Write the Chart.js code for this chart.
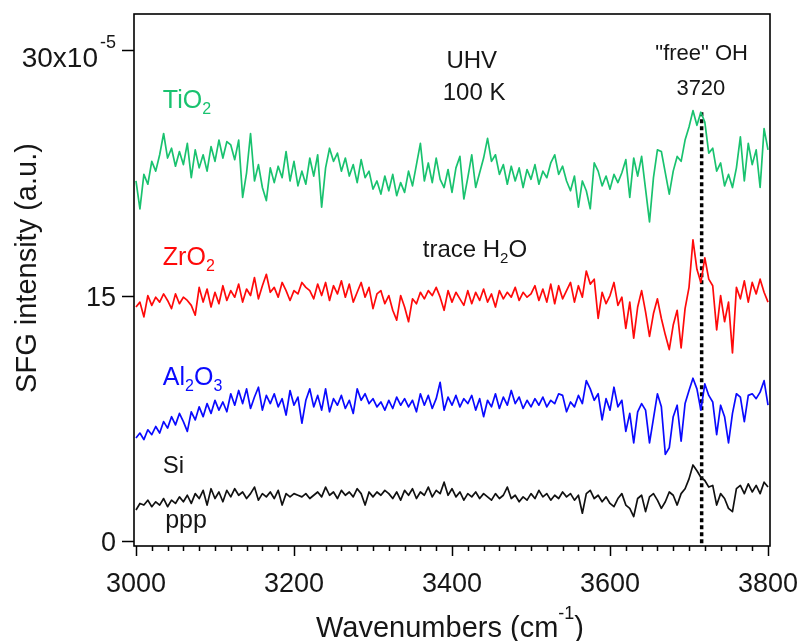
<!DOCTYPE html>
<html><head><meta charset="utf-8">
<script src="https://cdn.jsdelivr.net/npm/chart.js@4.4.1/dist/chart.umd.min.js"></script>
<style>html,body{margin:0;padding:0;background:#fff;}canvas{display:block}</style>
</head><body>
<canvas id="c" width="802" height="641" style="width:802px;height:641px"></canvas>
<script>
// ---- data ----
const wavenumbers = [
3000,3005,3010,3015,3020,3025,3030,3035,3040,3045,3050,3055,3060,3065,3070,3075,3080,3085,3090,3095,
3100,3105,3110,3115,3120,3125,3130,3135,3140,3145,3150,3155,3160,3165,3170,3175,3180,3185,3190,3195,
3200,3205,3210,3215,3220,3225,3230,3235,3240,3245,3250,3255,3260,3265,3270,3275,3280,3285,3290,3295,
3300,3305,3310,3315,3320,3325,3330,3335,3340,3345,3350,3355,3360,3365,3370,3375,3380,3385,3390,3395,
3400,3405,3410,3415,3420,3425,3430,3435,3440,3445,3450,3455,3460,3465,3470,3475,3480,3485,3490,3495,
3500,3505,3510,3515,3520,3525,3530,3535,3540,3545,3550,3555,3560,3565,3570,3575,3580,3585,3590,3595,
3600,3605,3610,3615,3620,3625,3630,3635,3640,3645,3650,3655,3660,3665,3670,3675,3680,3685,3690,3695,
3700,3705,3710,3715,3720,3725,3730,3735,3740,3745,3750,3755,3760,3765,3770,3775,3780,3785,3790,3795,
3800];
const tio2 = [
22.0,20.3,22.4,21.8,23.2,22.6,23.6,24.9,23.4,24.0,22.9,23.8,23.0,24.3,22.2,23.9,22.8,23.6,22.6,24.1,
23.2,24.5,23.4,24.4,24.2,23.3,24.5,21.0,22.5,24.9,22.0,23.0,21.6,20.8,22.8,21.9,22.9,22.2,23.8,22.0,
23.2,21.7,22.6,21.8,23.4,22.3,23.6,20.4,22.8,24.0,23.2,23.7,22.6,23.4,22.3,23.0,21.9,23.3,22.2,22.6,
21.5,22.0,21.2,22.3,21.4,22.4,21.1,21.9,21.3,22.6,21.7,23.0,24.3,22.0,23.1,21.9,23.4,22.1,21.6,22.7,
21.3,22.8,23.5,20.9,22.2,23.6,21.6,22.5,23.4,24.6,23.2,23.6,22.4,23.0,21.8,22.9,22.0,22.8,21.6,22.7,
22.1,23.0,21.8,22.6,22.2,23.1,23.6,22.4,22.9,22.0,21.4,22.3,20.4,22.0,21.4,20.3,23.1,22.6,21.7,22.3,
21.5,22.4,21.9,22.5,23.3,21.0,23.4,22.3,23.5,21.5,19.5,22.2,23.9,23.8,22.5,21.2,22.6,23.5,23.2,24.5,
25.3,26.3,25.4,26.2,25.6,23.7,24.0,22.6,23.1,21.7,22.4,21.6,22.8,24.7,22.0,24.3,23.0,23.9,21.6,25.2,
23.9];
const zro2 = [
14.3,14.6,13.7,15.0,14.4,14.9,14.6,15.1,14.7,14.2,15.1,14.5,14.9,14.7,14.4,13.8,15.5,14.6,15.4,14.3,
15.2,14.5,15.6,14.7,15.3,14.9,15.7,14.6,15.4,15.0,16.1,14.8,15.6,16.3,15.2,15.5,14.9,15.8,15.3,14.7,
15.3,15.1,15.8,15.5,15.3,14.8,15.7,15.0,15.8,14.7,15.6,15.1,15.9,14.9,15.7,14.6,15.2,15.8,14.9,15.5,
14.2,15.1,15.3,14.5,15.0,14.1,13.5,15.0,14.3,13.4,14.8,14.5,15.2,14.8,15.3,15.0,15.5,14.9,14.1,15.3,
14.6,15.2,14.8,14.4,15.3,14.5,15.2,14.7,15.4,14.6,15.1,14.3,15.3,14.8,15.2,14.9,15.5,14.7,15.2,14.9,
15.1,15.6,14.7,15.4,14.6,15.7,14.5,15.6,14.8,15.3,15.8,14.6,15.6,14.9,16.5,15.7,16.0,13.6,15.2,14.5,
15.0,15.8,14.4,14.9,13.0,14.6,12.4,14.3,15.3,14.0,12.5,13.9,14.8,13.6,12.6,11.7,13.2,14.1,11.8,14.2,
15.5,18.4,16.6,15.8,17.3,16.0,15.6,12.9,15.0,13.4,14.6,11.5,15.5,14.8,15.9,14.6,15.8,15.1,16.0,15.2,
14.6];
const al2o3 = [
6.3,6.6,6.2,6.8,6.5,7.0,6.6,7.3,6.9,7.6,7.1,7.8,7.3,6.7,7.9,7.4,8.2,7.6,8.4,7.8,
8.6,8.0,8.5,7.9,9.0,8.3,9.2,8.4,9.3,8.1,8.8,9.4,8.0,8.9,8.4,9.0,8.2,8.7,7.7,9.2,
8.3,8.8,7.2,8.6,9.3,8.2,8.9,8.0,9.3,7.9,8.7,8.3,8.9,8.1,8.6,7.8,9.3,8.6,9.0,8.4,
8.7,8.2,8.5,8.0,8.6,8.1,8.8,8.3,8.7,8.2,8.6,7.9,9.0,8.3,8.9,8.1,8.7,9.7,8.0,8.8,
8.3,8.9,8.2,8.7,8.4,8.9,8.0,8.7,7.6,8.6,8.2,9.0,8.1,8.8,8.3,9.2,8.4,8.8,8.1,8.6,
8.2,8.7,8.3,8.8,8.2,8.6,8.4,9.0,8.9,7.9,8.5,8.2,8.9,8.4,9.8,9.3,8.6,9.0,7.4,8.7,
8.0,9.4,8.2,8.6,6.7,7.8,6.0,7.9,8.4,8.0,6.0,7.5,9.0,8.2,5.3,5.7,7.6,8.3,6.1,8.4,
9.2,9.95,9.3,8.0,9.6,8.9,8.5,6.5,8.3,7.6,6.0,7.8,9.0,8.8,7.3,8.9,9.0,8.7,9.1,9.8,
8.3];
const si = [
1.9,2.3,2.2,2.5,2.1,2.4,2.2,2.6,2.1,2.5,2.3,2.7,2.4,2.8,2.3,2.9,2.6,3.1,2.2,3.2,
2.6,3.0,2.4,3.1,2.7,3.2,2.8,3.0,2.6,2.9,3.3,2.5,2.9,2.7,3.0,2.6,3.1,2.2,2.9,2.7,
2.9,2.8,2.7,2.9,2.6,2.8,3.0,2.7,3.3,2.8,3.0,2.6,3.1,2.8,3.0,2.7,3.2,2.9,2.2,3.0,
2.7,3.0,2.8,3.1,2.9,2.6,3.0,2.5,3.1,2.8,3.2,2.6,3.0,2.8,3.3,2.7,3.1,2.9,3.6,2.8,
3.2,2.7,3.0,2.5,2.9,2.7,3.0,2.6,2.9,2.7,2.5,2.9,2.6,2.8,3.3,2.6,2.8,2.4,2.7,2.5,
2.9,2.6,3.1,2.7,2.9,2.5,2.8,2.6,3.0,2.7,2.9,2.5,2.8,1.7,2.9,3.1,2.6,2.8,2.4,2.7,
2.3,2.1,2.6,2.9,2.2,2.0,1.5,2.6,2.8,1.8,2.7,2.9,2.5,2.0,2.4,3.0,2.8,2.2,2.9,3.2,
3.8,4.65,4.3,3.9,3.7,3.3,3.4,2.2,2.9,2.6,2.0,1.8,3.2,3.4,2.9,3.5,3.0,3.4,2.9,3.6,
3.3];
const freeOHx = [3716, 3716];
const freeOHy = [26.2, -0.3];
const xMajorTicks = [3000, 3200, 3400, 3600, 3800];
const xMinorStep = 20;
const yTicks = [0, 15, 30];
const yTickLabels = ['0', '15', '30x10'];
const yTickSup = ['', '', '-5'];

// ---- build chart ----
const FAM = '"Liberation Sans", Arial, Helvetica, sans-serif';
const INK = '#161616';
function pts(xs, ys){ const n = Math.min(xs.length, ys.length); const out=[]; for(let i=0;i<n;i++) out.push({x:xs[i], y:ys[i]}); return out; }

const series = [
  {label:'TiO2', data:pts(wavenumbers, tio2), color:'#19c26f'},
  {label:'ZrO2', data:pts(wavenumbers, zro2), color:'#ff0a0a'},
  {label:'Al2O3', data:pts(wavenumbers, al2o3), color:'#0a0aff'},
  {label:'Si', data:pts(wavenumbers, si), color:'#111111'}
];

// annotations: [parts, xValue, yValue, size, color, align]
const annotations = [
  [[['TiO','n'],['2','sub']], 3034, 26.46, 25, '#19c26f', 'left'],
  [[['ZrO','n'],['2','sub']], 3034, 16.87, 25, '#ff0a0a', 'left'],
  [[['Al','n'],['2','sub'],['O','n'],['3','sub']], 3034, 9.54, 25, '#0a0aff', 'left'],
  [[['Si','n']], 3034, 4.16, 24, INK, 'left'],
  [[['ppp','n']], 3037, 0.80, 25, INK, 'left'],
  [[['UHV','n']], 3425, 28.9, 24, INK, 'center'],
  [[['100 K','n']], 3428, 26.95, 24, INK, 'center'],
  [[['trace H','n'],['2','sub'],['O','n']], 3363, 17.36, 24, INK, 'left'],
  [[['"free" OH','n']], 3716, 29.39, 22, INK, 'center'],
  [[['3720','n']], 3715, 27.25, 22, INK, 'center']
];

function drawRich(ctx, parts, x, y, size, color, align, supOff){
  const small = Math.round(size*0.62);
  const so = supOff || 0.72;
  const ws = parts.map(([t,k]) => { ctx.font = (k==='n'?size:small)+'px '+FAM; return ctx.measureText(t).width; });
  const total = ws.reduce((a,b)=>a+b,0);
  let cx = align==='center' ? x-total/2 : (align==='right' ? x-total : x);
  ctx.fillStyle = color; ctx.textAlign='left'; ctx.textBaseline='alphabetic';
  parts.forEach(([t,k],i)=>{
    ctx.font = (k==='n'?size:small)+'px '+FAM;
    const dy = k==='sub' ? size*0.25 : (k==='sup' ? -size*so : 0);
    ctx.fillText(t, cx, y+dy);
    cx += ws[i];
  });
}

const decor = {
  id:'decor',
  afterDraw(chart){
    const ctx = chart.ctx, a = chart.chartArea, xs = chart.scales.x, ys = chart.scales.y;
    ctx.save();
    // frame
    ctx.strokeStyle = '#000'; ctx.lineWidth = 1.6;
    ctx.strokeRect(a.left, a.top, a.right-a.left, a.bottom-a.top);
    // x ticks
    ctx.lineWidth = 1.5;
    ctx.beginPath();
    for (let v = xMajorTicks[0]; v <= xMajorTicks[xMajorTicks.length-1]; v += xMinorStep){
      const px = Math.round(xs.getPixelForValue(v))+0.5;
      const major = xMajorTicks.includes(v);
      ctx.moveTo(px, a.bottom); ctx.lineTo(px, a.bottom + (major?10:5));
    }
    // y ticks
    yTicks.forEach(v => { const py = Math.round(ys.getPixelForValue(v))+0.5; ctx.moveTo(a.left, py); ctx.lineTo(a.left-12, py); });
    ctx.stroke();
    // x tick labels
    ctx.fillStyle = INK; ctx.font = '27px '+FAM; ctx.textAlign='center'; ctx.textBaseline='alphabetic';
    xMajorTicks.forEach(v => ctx.fillText(String(v), xs.getPixelForValue(v), 592));
    // y tick labels
    yTicks.forEach((v,i) => {
      const py = ys.getPixelForValue(v);
      if (yTickSup[i]) {
        ctx.font = '18px '+FAM; ctx.textAlign='right';
        const sw = ctx.measureText(yTickSup[i]).width;
        ctx.fillText(yTickSup[i], 116, py - 2);
        ctx.font = '28px '+FAM;
        ctx.fillText(yTickLabels[i], 116 - sw - 2, py + 17);
      } else {
        ctx.font = '27px '+FAM; ctx.textAlign='right';
        ctx.fillText(yTickLabels[i], 116, py + 10);
      }
    });
    // axis titles
    drawRich(ctx, [['Wavenumbers (cm','n'],['-1','sup'],[')','n']], 450, 637, 29, INK, 'center', 0.62);
    ctx.save();
    ctx.translate(36, 268); ctx.rotate(-Math.PI/2);
    ctx.fillStyle = INK; ctx.font = '29px '+FAM; ctx.textAlign='center'; ctx.textBaseline='alphabetic';
    ctx.fillText('SFG intensity (a.u.)', 0, 0);
    ctx.restore();
    // annotations
    annotations.forEach(([parts, xv, yv, size, color, align]) => {
      drawRich(ctx, parts, xs.getPixelForValue(xv), ys.getPixelForValue(yv), size, color, align);
    });
    ctx.restore();
  }
};

const datasets = series.map(s => ({
  label: s.label, data: s.data, borderColor: s.color, backgroundColor: s.color,
  borderWidth: 1.7, pointRadius: 0, tension: 0, fill: false, borderJoinStyle: 'round'
}));
datasets.push({
  label: 'free OH 3720', data: pts(freeOHx, freeOHy), borderColor: '#000',
  borderWidth: 3.5, borderDash: [4, 3], pointRadius: 0, fill: false
});

new Chart(document.getElementById('c'), {
  type: 'line',
  data: { datasets },
  options: {
    responsive: false, animation: false, devicePixelRatio: 1,
    layout: { padding: { left: 0, right: 32, top: 14, bottom: 0 } },
    plugins: { legend: { display: false }, tooltip: { enabled: false } },
    scales: {
      x: { type: 'linear', min: 2997.5, max: 3802.5,
           ticks: { display: false }, grid: { display: false }, border: { display: false },
           afterFit: s => { s.height = 95; } },
      y: { type: 'linear', min: -0.3, max: 32.2,
           ticks: { display: false }, grid: { display: false }, border: { display: false },
           afterFit: s => { s.width = 134; } }
    }
  },
  plugins: [decor]
});
</script>
</body></html>
